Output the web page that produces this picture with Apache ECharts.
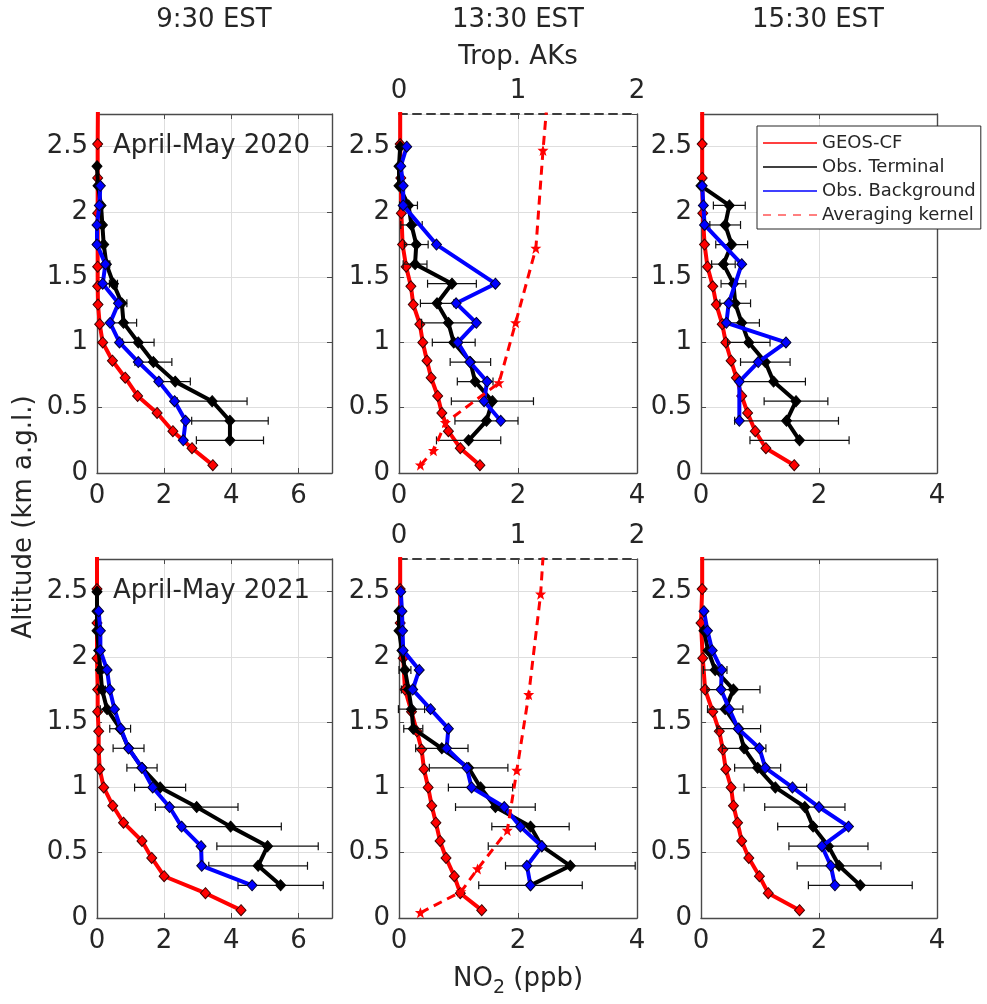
<!DOCTYPE html>
<html>
<head>
<meta charset="utf-8">
<script src="https://cdn.jsdelivr.net/npm/echarts@6/dist/echarts.min.js"></script>
<style>html,body{margin:0;padding:0;background:#fff}#c{width:987px;height:1004px}</style>
</head>
<body>
<div id="c"></div>
<script>
// ---------------- DATA ----------------
const columnTitles = ['9:30 EST', '13:30 EST', '15:30 EST'];
const periodLabels = ['April-May 2020', 'April-May 2021'];
const legendNames = ['GEOS-CF', 'Obs. Terminal', 'Obs. Background', 'Averaging kernel'];

// altitude levels (km a.g.l.)
const geosAlt = [0.06,0.19,0.32,0.46,0.59,0.73,0.86,1.0,1.14,1.29,1.43,1.58,1.75,1.99,2.26,2.52,2.9];
const obsAlt  = [0.25,0.4,0.55,0.7,0.85,1.0,1.15,1.3,1.45,1.6,1.75,1.9,2.05,2.2,2.35,2.5];

// 2020, 9:30
const geos_2020_0930 = [3.45,2.83,2.26,1.79,1.21,0.84,0.46,0.17,0.08,0.03,0.02,0.02,0.02,0.02,0.02,0.02,0.03];
const term_2020_0930 = [3.96,3.96,3.43,2.33,1.68,1.23,0.79,0.74,0.49,0.28,0.2,0.16,0.12,0.03,0.0,null];
const err_2020_0930  = [1.0,1.14,1.04,0.45,0.55,0.47,0.39,0.15,0.12,0.1,0.05,0.05,0.05,0.03,0.02,null];
const bg_2020_0930   = [2.57,2.64,2.31,1.84,1.23,0.67,0.39,0.64,0.17,0.25,0.0,0.0,0.07,0.1,null,null];
// 2020, 13:30
const geos_2020_1330 = [1.36,1.03,0.83,0.72,0.65,0.54,0.47,0.40,0.35,0.24,0.20,0.12,0.06,0.04,0.03,0.02,0.02];
const term_2020_1330 = [1.17,1.47,1.57,1.28,1.2,0.92,0.83,0.64,0.89,0.27,0.29,0.21,0.16,0.0,0.0,0.02];
const err_2020_1330  = [0.54,0.53,0.69,0.3,0.34,0.36,0.45,0.28,0.41,0.2,0.2,0.18,0.15,null,null,null];
const bg_2020_1330   = [null,1.71,1.43,1.48,1.19,0.99,1.3,0.96,1.62,null,0.63,null,0.07,0.07,0.03,0.13];
// 2020, 15:30
const geos_2020_1530 = [1.58,1.1,0.92,0.79,0.69,0.60,0.51,0.42,0.36,0.26,0.2,0.11,0.06,0.03,0.02,0.02,0.02];
const term_2020_1530 = [1.67,1.45,1.61,1.23,1.09,0.81,0.69,0.58,0.55,0.38,0.52,0.41,0.48,0.0,null,null];
const err_2020_1530  = [0.84,0.88,0.54,0.54,0.42,0.36,0.3,0.26,0.21,0.2,0.27,0.26,0.27,null,null,null];
const bg_2020_1530   = [null,0.65,null,0.65,0.97,1.44,0.43,0.47,null,0.69,null,0.06,0.04,0.02,null,null];
// 2021, 9:30
const geos_2021_0930 = [4.29,3.23,2.0,1.63,1.34,0.79,0.47,0.2,0.08,0.05,0.05,0.02,0.02,0.0,0.0,0.0,0.0];
const term_2021_0930 = [5.47,4.8,5.08,3.98,2.97,1.88,1.34,0.94,0.69,0.3,0.15,0.1,0.05,0.0,0.0,0.0];
const err_2021_0930  = [1.27,1.47,1.51,1.51,1.23,0.76,0.45,0.46,0.31,0.2,0.1,0.08,0.05,null,null,null];
const bg_2021_0930   = [4.62,3.12,3.1,2.52,2.16,1.66,1.34,0.94,0.71,0.52,0.38,0.3,0.1,0.1,0.05,null];
// 2021, 13:30
const geos_2021_1330 = [1.39,1.03,0.93,0.79,0.69,0.62,0.55,0.49,0.42,0.38,0.3,0.21,0.1,0.07,0.02,0.02,0.02];
const term_2021_1330 = [2.21,2.88,2.4,2.21,1.62,1.37,1.17,0.72,0.24,0.21,0.16,0.1,0.05,0.0,0.0,null];
const err_2021_1330  = [0.87,1.09,0.9,0.65,0.67,0.54,0.66,0.44,0.16,0.22,0.12,0.1,null,null,null,null];
const bg_2021_1330   = [2.21,2.15,2.4,2.04,1.77,1.22,1.14,0.8,0.83,0.53,0.23,0.34,0.07,0.06,0.05,0.03];
// 2021, 15:30
const geos_2021_1530 = [1.67,1.14,0.99,0.81,0.69,0.62,0.55,0.51,0.42,0.37,0.31,0.2,0.07,0.03,0.0,0.02,0.02];
const term_2021_1530 = [2.7,2.34,2.16,1.9,1.76,1.26,0.96,0.73,0.64,0.41,0.55,0.24,0.12,0.05,null,null];
const err_2021_1530  = [0.88,0.71,0.67,0.6,0.68,0.53,0.39,0.37,0.37,0.3,0.45,0.2,null,null,null,null];
const bg_2021_1530   = [2.27,2.2,2.05,2.5,2.0,1.55,1.09,0.99,0.63,0.48,0.34,0.35,0.19,0.11,0.05,null];

// Tropospheric averaging kernels (13:30 columns)
const akAlt_2020 = [0.06,0.17,0.385,0.69,1.15,1.72,2.47,2.9];
const ak_2020    = [0.18,0.29,0.39,0.84,0.98,1.15,1.21,1.25];
const akAlt_2021 = [0.04,0.2,0.375,0.67,1.13,1.71,2.48,2.9];
const ak_2021    = [0.18,0.52,0.66,0.91,0.99,1.09,1.19,1.22];

// ---------------- LAYOUT / STYLE ----------------
const FONT = 'DejaVu Sans';
const TXT = '#262626';
const AX = '#4a4a4a';
const GRIDC = '#dedede';
const grids = [[97,114,235,359],[399,114,238,359],[701,114,236,359],
               [97,559,235,359],[399,559,238,359],[701,559,236,359]];
const xMaxes = [7,4,4,7,4,4];

const panels = [
  {geos:geos_2020_0930, term:term_2020_0930, err:err_2020_0930, bg:bg_2020_0930},
  {geos:geos_2020_1330, term:term_2020_1330, err:err_2020_1330, bg:bg_2020_1330, akAlt:akAlt_2020, ak:ak_2020},
  {geos:geos_2020_1530, term:term_2020_1530, err:err_2020_1530, bg:bg_2020_1530},
  {geos:geos_2021_0930, term:term_2021_0930, err:err_2021_0930, bg:bg_2021_0930},
  {geos:geos_2021_1330, term:term_2021_1330, err:err_2021_1330, bg:bg_2021_1330, akAlt:akAlt_2021, ak:ak_2021},
  {geos:geos_2021_1530, term:term_2021_1530, err:err_2021_1530, bg:bg_2021_1530}
];

function pairs(vals, alts) {
  const out = [];
  vals.forEach((v, k) => { if (v != null) out.push([v, alts[k]]); });
  return out;
}

const starPath = 'path://M0,-10 L2.5,-3.5 L9.5,-3.5 L4,1.5 L6,9 L0,4.5 L-6,9 L-4,1.5 L-9.5,-3.5 L-2.5,-3.5 Z';

const xAxes = [], yAxes = [], series = [];
const baseTick = {show:true, inside:true, length:5, lineStyle:{color:AX, width:1}};
const baseLine = {show:true, onZero:false, lineStyle:{color:AX, width:1.4}};
const lblStyle = {fontSize:26, color:TXT, fontFamily:FONT};
const MK = [10,11];

grids.forEach((g, i) => {
  const xm = xMaxes[i];
  const isMid = (i % 3 === 1);
  xAxes.push({gridIndex:i, type:'value', min:0, max:xm, interval:2, position:'bottom',
    axisLine:baseLine, axisTick:baseTick,
    axisLabel:Object.assign({margin:10, showMaxLabel: xm === 4, showMinLabel:true}, lblStyle),
    splitLine:{show:true, lineStyle:{color:GRIDC, width:1}}});
  const xBottomIdx = xAxes.length - 1;
  if (isMid) {
    xAxes.push({gridIndex:i, type:'value', min:0, max:2, interval:1, position:'top',
      axisLine:{show:true, onZero:false, lineStyle:{color:'#3c3c3c', width:2, type:[8,6]}},
      axisTick:baseTick,
      axisLabel:Object.assign({margin:10}, lblStyle),
      splitLine:{show:false}});
  } else {
    xAxes.push({gridIndex:i, type:'value', min:0, max:xm, interval:2, position:'top',
      axisLine:baseLine, axisTick:baseTick, axisLabel:{show:false}, splitLine:{show:false}});
  }
  const xTopIdx = xAxes.length - 1;
  yAxes.push({gridIndex:i, type:'value', min:0, max:2.75, interval:0.5, position:'left',
    axisLine:baseLine, axisTick:baseTick,
    axisLabel:Object.assign({margin:9, showMaxLabel:false}, lblStyle),
    splitLine:{show:true, lineStyle:{color:GRIDC, width:1}}});
  const yIdx = yAxes.length - 1;
  yAxes.push({gridIndex:i, type:'value', min:0, max:2.75, interval:0.5, position:'right',
    axisLine:baseLine, axisTick:baseTick, axisLabel:{show:false}, splitLine:{show:false}});

  const p = panels[i];
  const gData = pairs(p.geos, geosAlt).map((d, k, arr) => k === arr.length - 1 ? {value:d, symbol:'none'} : d);
  series.push({type:'line', xAxisIndex:xBottomIdx, yAxisIndex:yIdx, data:gData, silent:true,
    symbol:'diamond', symbolSize:MK, lineStyle:{color:'#ff0000', width:4},
    itemStyle:{color:'#ff0000', borderColor:'#400000', borderWidth:1}, z:2});
  const eData = [];
  p.term.forEach((v, k) => { if (v != null && p.err[k] != null) eData.push([v, obsAlt[k], p.err[k]]); });
  series.push({type:'custom', xAxisIndex:xBottomIdx, yAxisIndex:yIdx, data:eData, silent:true, z:3,
    encode:{x:0, y:1},
    renderItem:function(params, api){
      const x = api.value(0), y = api.value(1), e = api.value(2);
      const a = api.coord([x - e, y]), b = api.coord([x + e, y]);
      const c = 4, st = {stroke:'#111', lineWidth:1.2};
      return {type:'group', children:[
        {type:'line', shape:{x1:a[0], y1:a[1], x2:b[0], y2:b[1]}, style:st},
        {type:'line', shape:{x1:a[0], y1:a[1]-c, x2:a[0], y2:a[1]+c}, style:st},
        {type:'line', shape:{x1:b[0], y1:b[1]-c, x2:b[0], y2:b[1]+c}, style:st}
      ]};
    }});
  series.push({type:'line', xAxisIndex:xBottomIdx, yAxisIndex:yIdx, data:pairs(p.term, obsAlt), silent:true,
    symbol:'diamond', symbolSize:MK, lineStyle:{color:'#000', width:4},
    itemStyle:{color:'#000', borderColor:'#000', borderWidth:1}, z:4});
  series.push({type:'line', xAxisIndex:xBottomIdx, yAxisIndex:yIdx, data:pairs(p.bg, obsAlt), silent:true,
    symbol:'diamond', symbolSize:MK, lineStyle:{color:'#0000ff', width:4},
    itemStyle:{color:'#0000ff', borderColor:'#000030', borderWidth:1}, z:5});
  if (p.ak) {
    const aData = pairs(p.ak, p.akAlt).map((d, k, arr) => k === arr.length - 1 ? {value:d, symbol:'none'} : d);
    series.push({type:'line', xAxisIndex:xTopIdx, yAxisIndex:yIdx, data:aData, silent:true,
      symbol:starPath, symbolSize:11, lineStyle:{color:'#ff0000', width:3, type:[9,6]},
      itemStyle:{color:'#ff0000'}, z:6});
  }
});

// legend-only series
const legendColors = ['#ff0000', '#000000', '#0000ff', '#ff0000'];
const dashIcon = 'path://M0,0h8v1h-8z M15,0h8v1h-8z M30,0h8v1h-8z M46,0h8v1h-8z';
legendNames.forEach((n, k) => {
  series.push({type:'line', name:n, xAxisIndex:0, yAxisIndex:0, data:[], symbol:'none',
    lineStyle:{color:legendColors[k], width:1.5}, itemStyle:{color:legendColors[k]}});
});

const titleX = [214, 518, 818];
const graphics = [];
columnTitles.forEach((t, k) => graphics.push({type:'text', x:titleX[k], y:20,
  style:{text:t, align:'center', verticalAlign:'middle', fontSize:26, fontFamily:FONT, fill:TXT}}));
graphics.push({type:'text', x:518, y:57,
  style:{text:'Trop. AKs', align:'center', verticalAlign:'middle', fontSize:26, fontFamily:FONT, fill:TXT}});
graphics.push({type:'text', x:113, y:146, z:10,
  style:{text:periodLabels[0], align:'left', verticalAlign:'middle', fontSize:26, fontFamily:FONT, fill:TXT}});
graphics.push({type:'text', x:113, y:591, z:10,
  style:{text:periodLabels[1], align:'left', verticalAlign:'middle', fontSize:26, fontFamily:FONT, fill:TXT}});
graphics.push({type:'text', x:24, y:517, rotation:Math.PI/2,
  style:{text:'Altitude (km a.g.l.)', align:'center', verticalAlign:'middle', fontSize:26, fontFamily:FONT, fill:TXT}});
graphics.push({type:'text', x:518, y:966,
  style:{text:'{n|NO}{s|2}{n| (ppb)}', align:'center', verticalAlign:'top', fontFamily:FONT, fill:TXT,
    rich:{n:{fontSize:26, fontFamily:FONT, fill:TXT, color:TXT, verticalAlign:'top'},
          s:{fontSize:19, fontFamily:FONT, fill:TXT, color:TXT, verticalAlign:'top', padding:[13,0,0,0]}}}});

const option = {
  animation:false,
  backgroundColor:'#ffffff',
  grid: grids.map(g => ({left:g[0], top:g[1], width:g[2], height:g[3], containLabel:false})),
  xAxis: xAxes,
  yAxis: yAxes,
  legend:{
    data:[{name:legendNames[0], icon:'rect'}, {name:legendNames[1], icon:'rect'},
          {name:legendNames[2], icon:'rect'}, {name:legendNames[3], icon:dashIcon}],
    orient:'vertical', left:757, top:126, itemWidth:54, itemHeight:1.5, itemGap:4,
    padding:[7,5,4,6], backgroundColor:'#ffffff', borderColor:'#262626', borderWidth:1,
    textStyle:{fontSize:18, color:TXT, fontFamily:FONT, lineHeight:20, height:20}, selectedMode:false, z:20},
  series: series,
  graphic: graphics
};

const chart = echarts.init(document.getElementById('c'), null, {renderer:'canvas'});
chart.setOption(option);
</script>
</body>
</html>
